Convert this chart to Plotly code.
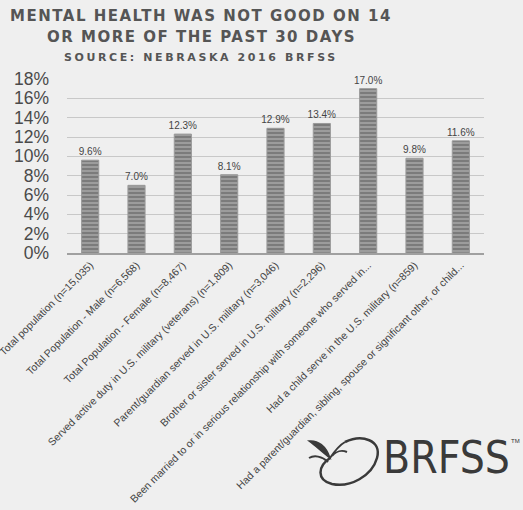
import plotly.graph_objects as go

categories = [
    "Total population (n=15,035)",
    "Total Population - Male (n=6,568)",
    "Total Population - Female (n=8,467)",
    "Served active duty in U.S. military (veterans) (n=1,809)",
    "Parent/guardian served in U.S. military (n=3,046)",
    "Brother or sister served in U.S. military (n=2,296)",
    "Been married to or in serious relationship with someone who served in...",
    "Had a child serve in the U.S. military (n=859)",
    "Had a parent/guardian, sibling, spouse or significant other, or child...",
]
values = [9.6, 7.0, 12.3, 8.1, 12.9, 13.4, 17.0, 9.8, 11.6]
y_ticks = [0, 2, 4, 6, 8, 10, 12, 14, 16, 18]
y_tick_labels = [f"{v}%" for v in y_ticks]
value_labels = [f"{v:.1f}%" for v in values]

BG = "#efefef"

fig = go.Figure(go.Bar(
    x=categories,
    y=values,
    text=value_labels,
    textposition="outside",
    constraintext="none",
    textfont=dict(family="Liberation Sans", size=10, color="#444444"),
    cliponaxis=False,
    marker=dict(
        color="#8a8a8a",
        line=dict(color="#9a9a9a", width=1),
        pattern=dict(shape="-", fgcolor="#484848", bgcolor="#9c9c9c", size=4, solidity=0.4),
    ),
))

fig.update_layout(
    width=523, height=510,
    paper_bgcolor=BG, plot_bgcolor=BG,
    margin=dict(l=67, r=39, t=79, b=257),
    bargap=0.63,
    showlegend=False,
    font=dict(family="DejaVu Sans", color="#555555"),
)
fig.update_yaxes(
    range=[0, 18], tickvals=y_ticks, ticktext=y_tick_labels,
    tickfont=dict(family="Liberation Sans", size=17.5, color="#4a4a4a"),
    gridcolor="#c8c8c8", gridwidth=1, zeroline=False, showline=False,
    ticks="", ticklabelstandoff=17, automargin=False,
)
fig.update_xaxes(
    tickangle=-45, tickfont=dict(family="Liberation Sans", size=10.5, color="#444444"),
    showline=True, linecolor="#a0a0a0", linewidth=2, ticks="",
    showgrid=False, automargin=False,
)


def px(xp):
    return (xp - 67) / 417


def py(yp):
    return (253 - yp) / 174


title_lines = [
    ("MENTAL HEALTH WAS NOT GOOD ON 14", 16, 15, 1.5),
    ("OR MORE OF THE PAST 30 DAYS", 37, 15, 1.5),
    ("SOURCE: NEBRASKA 2016 BRFSS", 57, 11, 2.6),
]
for txt, yy, sz, sp in title_lines:
    fig.add_annotation(
        text=f'<span style="letter-spacing:{sp}px"><b>{txt}</b></span>',
        xref="paper", yref="paper", x=px(201), y=py(yy),
        showarrow=False, xanchor="center", yanchor="middle",
        font=dict(family="DejaVu Sans", size=sz, color="#555555"),
    )

# BRFSS logo
fig.add_annotation(
    text="BRFSS", xref="paper", yref="paper", x=px(381), y=py(457),
    showarrow=False, xanchor="left", yanchor="middle",
    font=dict(family="Liberation Sans Narrow, DejaVu Sans Condensed, Roboto Condensed, Liberation Sans",
              size=44, color="#3a3a3a"),
)
fig.add_annotation(
    text="TM", xref="paper", yref="paper", x=px(509), y=py(441),
    showarrow=False, xanchor="left", yanchor="middle",
    font=dict(family="Liberation Sans", size=6, color="#333333"),
)
oval = (
    f"M {px(345)},{py(442)} "
    f"C {px(362)},{py(434)} {px(382)},{py(440)} {px(377)},{py(458)} "
    f"C {px(372)},{py(476)} {px(350)},{py(488)} {px(332)},{py(484)} "
    f"C {px(316)},{py(480)} {px(318)},{py(466)} {px(330)},{py(458)}"
)
fig.add_shape(type="path", path=oval, xref="paper", yref="paper",
              line=dict(color="#3a3a3a", width=2.5))
stem = (
    f"M {px(330)},{py(458)} C {px(334)},{py(452)} {px(338)},{py(446)} {px(345)},{py(442)}"
)
fig.add_shape(type="path", path=stem, xref="paper", yref="paper",
              line=dict(color="#3a3a3a", width=2))
leaf_l = (
    f"M {px(330)},{py(458)} C {px(326)},{py(446)} {px(318)},{py(440)} {px(309)},{py(441)} "
    f"C {px(316)},{py(446)} {px(322)},{py(452)} {px(330)},{py(458)} Z"
)
fig.add_shape(type="path", path=leaf_l, xref="paper", yref="paper",
              fillcolor="#3a3a3a", line=dict(color="#3a3a3a", width=1.5))
leaf_l2 = (
    f"M {px(328)},{py(462)} C {px(322)},{py(456)} {px(314)},{py(455)} {px(309)},{py(458)}"
)
fig.add_shape(type="path", path=leaf_l2, xref="paper", yref="paper",
              line=dict(color="#3a3a3a", width=2))
leaf_r = (
    f"M {px(332)},{py(456)} C {px(336)},{py(451)} {px(342)},{py(450)} {px(347)},{py(452)}"
)
fig.add_shape(type="path", path=leaf_r, xref="paper", yref="paper",
              line=dict(color="#3a3a3a", width=2))

fig.write_html(
    "out.html",
    config={"displayModeBar": False},
    post_script=(
        "document.body.style.margin='0';"
        "document.body.style.background='#efefef';"
        "document.documentElement.style.overflow='hidden';"
    ),
)
